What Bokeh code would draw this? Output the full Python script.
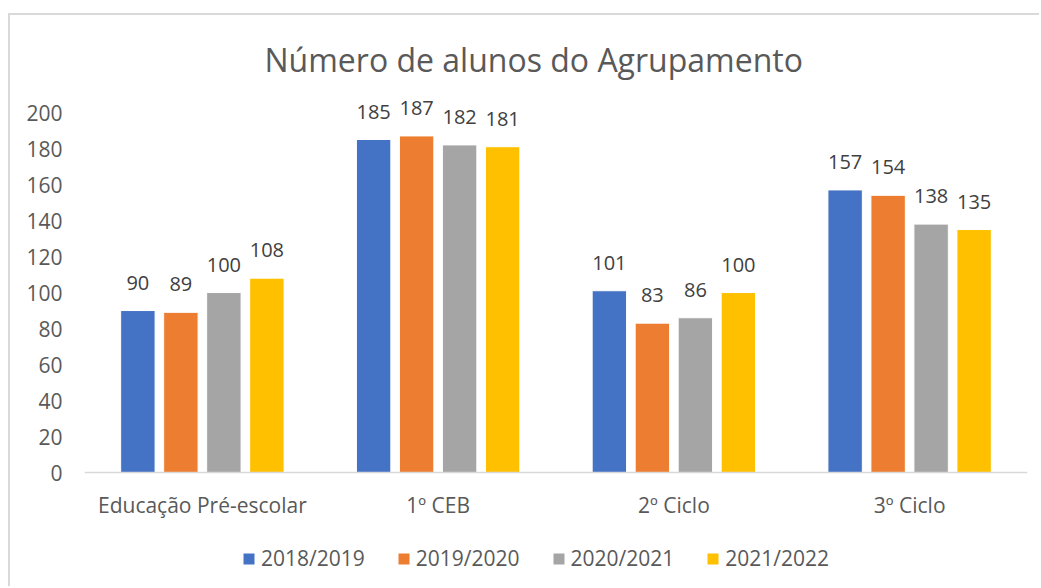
from bokeh.plotting import figure
from bokeh.models import ColumnDataSource, FactorRange, FixedTicker, Title, Range1d
from bokeh.transform import dodge
from bokeh.embed import file_html
from bokeh.resources import INLINE

categories = ["Educação Pré-escolar", "1º CEB", "2º Ciclo", "3º Ciclo"]
series_names = ["2018/2019", "2019/2020", "2020/2021", "2021/2022"]
v2018 = [90, 185, 101, 157]
v2019 = [89, 187, 83, 154]
v2020 = [100, 182, 86, 138]
v2021 = [108, 181, 100, 135]
y_ticks = [0, 20, 40, 60, 80, 100, 120, 140, 160, 180, 200]

colors = ["#4472C4", "#ED7D31", "#A5A5A5", "#FFC000"]
offsets = [-0.2736, -0.0912, 0.0912, 0.2736]
keys = ["s2018", "s2019", "s2020", "s2021"]

data = dict(cat=categories, s2018=v2018, s2019=v2019, s2020=v2020, s2021=v2021)
for k in keys:
    data[k + "_lbl"] = [str(v) for v in data[k]]
source = ColumnDataSource(data)

FONT = "Open Sans"

p = figure(
    x_range=FactorRange(*categories, range_padding=0),
    y_range=Range1d(-64.4, 210),
    width=1031, height=573,
    output_backend="svg", toolbar_location=None,
    min_border_left=74, min_border_right=14,
    min_border_top=79, min_border_bottom=0,
    background_fill_color="white", border_fill_color="white",
    styles={"margin-left": "10px", "margin-top": "15px",
            "box-shadow": "-2px -2px 0px 0px #D9D9D9"},
)
p.outline_line_color = None
p.grid.grid_line_color = None

for k, name, c, off in zip(keys, series_names, colors, offsets):
    p.vbar(x=dodge("cat", off, range=p.x_range), top=k, bottom=0, width=0.146, source=source,
           fill_color=c, line_color="white", line_width=1, legend_label=name)
    p.text(x=dodge("cat", off, range=p.x_range), y=k, text=k + "_lbl", source=source,
           text_align="center", text_baseline="alphabetic", y_offset=-28,
           text_font_size="20px", text_color="#404040", text_font={"value": FONT})

# title
p.title = Title(text="Número de alunos do Agrupamento", align="left",
                text_font=FONT, text_font_size="32px", text_font_style="normal",
                text_color="#595959", standoff=27, offset=180)

# axes
p.yaxis.ticker = FixedTicker(ticks=y_ticks)
p.yaxis.axis_line_color = None
p.yaxis.major_tick_line_color = None
p.yaxis.minor_tick_line_color = None
p.yaxis.major_label_standoff = 16
p.yaxis.major_label_text_font = FONT
p.yaxis.major_label_text_font_size = "21px"
p.yaxis.major_label_text_color = "#595959"

p.xaxis.fixed_location = 0
p.xaxis.axis_line_color = "#D9D9D9"
p.xaxis.axis_line_width = 1.5
p.xaxis.major_tick_line_color = None
p.xaxis.minor_tick_line_color = None
p.xaxis.major_label_standoff = 12
p.xaxis.major_label_text_font = FONT
p.xaxis.major_label_text_font_size = "21px"
p.xaxis.major_label_text_color = "#595959"

# legend (inside the extended frame, below the axis)
lg = p.legend[0]
lg.orientation = "horizontal"
lg.location = (157, 16)
lg.border_line_color = None
lg.background_fill_alpha = 0
lg.padding = 0
lg.margin = 0
lg.spacing = 31
lg.glyph_width = 15
lg.glyph_height = 15
lg.label_standoff = 5
lg.label_text_font = FONT
lg.label_text_font_size = "21px"
lg.label_text_color = "#595959"

open("out.html", "w").write(file_html(p, INLINE))
